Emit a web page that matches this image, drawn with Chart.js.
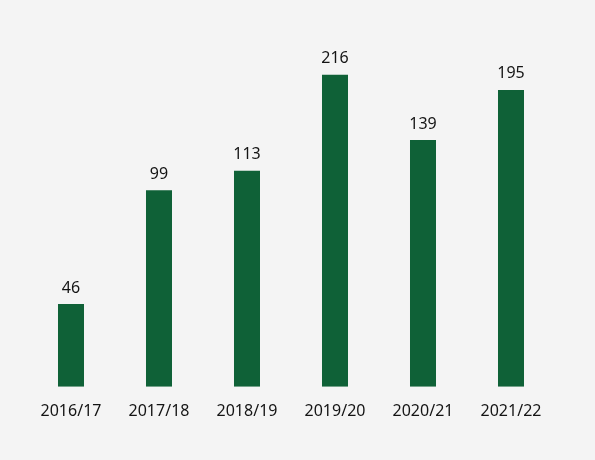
<!DOCTYPE html>
<html>
<head>
<meta charset="utf-8">
<script src="https://cdn.jsdelivr.net/npm/chart.js@4/dist/chart.umd.min.js"></script>
<style>
  html, body { margin: 0; padding: 0; background: #f4f4f4; }
  #wrap { width: 595px; height: 460px; position: relative; }
</style>
</head>
<body>
<div id="wrap"><canvas id="c" width="595" height="460"></canvas></div>
<script>
const categories = ["2016/17", "2017/18", "2018/19", "2019/20", "2020/21", "2021/22"];
const values = [46, 99, 113, 216, 139, 195];

const FONT = "'Noto Sans', sans-serif";
const TEXT = "#141414";

const valueLabels = {
  id: 'valueLabels',
  afterDatasetsDraw(chart) {
    const ctx = chart.ctx;
    const meta = chart.getDatasetMeta(0);
    ctx.save();
    ctx.font = "16px " + FONT;
    ctx.fillStyle = TEXT;
    ctx.textAlign = 'center';
    ctx.textBaseline = 'middle';
    meta.data.forEach((bar, i) => {
      ctx.fillText(String(values[i]), bar.x, bar.y - 16);
    });
    ctx.restore();
  }
};

new Chart(document.getElementById('c'), {
  type: 'bar',
  data: {
    labels: categories,
    datasets: [{
      data: values,
      backgroundColor: '#0f6137',
      borderWidth: 0,
      categoryPercentage: 1,
      barPercentage: 0.2955
    }]
  },
  options: {
    responsive: false,
    animation: false,
    layout: { padding: { left: 27, right: 40, top: 19, bottom: 24 } },
    plugins: { legend: { display: false }, tooltip: { enabled: false } },
    scales: {
      x: {
        grid: { display: false, drawTicks: false },
        border: { display: false },
        ticks: { color: TEXT, font: { family: FONT, size: 16 }, padding: 15, maxRotation: 0 }
      },
      y: {
        type: 'logarithmic',
        display: false,
        min: 26.3,
        max: 314.7
      }
    }
  },
  plugins: [valueLabels]
});
</script>
</body>
</html>
